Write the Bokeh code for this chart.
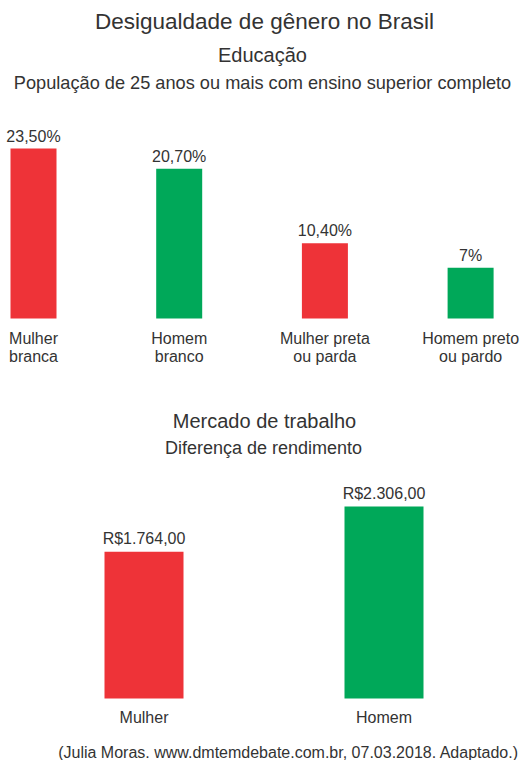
from bokeh.plotting import figure
from bokeh.layouts import column
from bokeh.models import Range1d
from bokeh.core.properties import value
from bokeh.embed import file_html
from bokeh.resources import INLINE

# ---- data ----
edu_categories = ["Mulher\nbranca", "Homem\nbranco", "Mulher preta\nou parda", "Homem preto\nou pardo"]
edu_values = [23.5, 20.7, 10.4, 7.0]
edu_labels = ["23,50%", "20,70%", "10,40%", "7%"]

inc_categories = ["Mulher", "Homem"]
inc_values = [1764, 2306]
inc_labels = ["R$1.764,00", "R$2.306,00"]

title_main = "Desigualdade de gênero no Brasil"
title_edu = "Educação"
subtitle_edu = "População de 25 anos ou mais com ensino superior completo"
title_inc = "Mercado de trabalho"
subtitle_inc = "Diferença de rendimento"
source = "(Julia Moras. www.dmtemdebate.com.br, 07.03.2018. Adaptado.)"

# ---- style ----
RED = "#EE3338"
GREEN = "#00A859"
TXT = "#333333"
FONT = value("Liberation Sans")
W = 520
H1 = 393
H2 = 367
TOP1 = 0            # page y of top figure
TOP2 = TOP1 + H1    # page y of bottom figure
LEFT = 0


def make_fig(h, xr, yr):
    p = figure(width=W, height=h, x_range=xr, y_range=yr,
               output_backend="svg", toolbar_location=None,
               x_axis_location=None, y_axis_location=None,
               min_border=0, min_border_left=0, min_border_right=0,
               min_border_top=0, min_border_bottom=0)
    p.grid.visible = False
    p.outline_line_color = None
    p.background_fill_color = "white"
    p.border_fill_color = "white"
    return p


def txt(p, xs, ys, texts, size):
    p.text(x=xs, y=ys, text=texts, text_font=FONT,
           text_font_size=value(size), text_color=TXT,
           text_align="center", text_baseline="middle")


# ---------------- top figure: education ----------------
s1y = 170 / 23.5          # px per percent
base1 = 318               # page y of baseline
s1x = 145.7               # px per category
x0_1 = 33                 # page x of first category

xr1 = Range1d((LEFT - x0_1) / s1x, (LEFT + W - x0_1) / s1x)
yr1 = Range1d(-(TOP1 + H1 - base1) / s1y, (base1 - TOP1) / s1y)
p1 = make_fig(H1, xr1, yr1)

def y1(py):
    return (base1 - py) / s1y

def x1(px):
    return (px - x0_1) / s1x

idx1 = list(range(len(edu_categories)))
colors1 = [RED, GREEN, RED, GREEN]
p1.vbar(x=idx1, top=edu_values, bottom=0, width=46 / s1x,
        fill_color=colors1, line_color=None)

lab_y1 = [v + 12.5 / s1y for v in edu_values]
txt(p1, idx1, lab_y1, edu_labels, "16px")
line1 = [c.split("\n")[0] for c in edu_categories]
line2 = [c.split("\n")[1] for c in edu_categories]
txt(p1, idx1, [y1(338)] * 4, line1, "16px")
txt(p1, idx1, [y1(356)] * 4, line2, "16px")

txt(p1, [x1(264)], [y1(21)], [title_main], "22.5px")
txt(p1, [x1(262)], [y1(54)], [title_edu], "20px")
txt(p1, [x1(262)], [y1(82)], [subtitle_edu], "18.2px")

# ---------------- bottom figure: income ----------------
s2y = 192 / 2306
base2 = 698
s2x = 240
x0_2 = 143.5

xr2 = Range1d((LEFT - x0_2) / s2x, (LEFT + W - x0_2) / s2x)
yr2 = Range1d(-(TOP2 + H2 - base2) / s2y, (base2 - TOP2) / s2y)
p2 = make_fig(H2, xr2, yr2)

def y2(py):
    return (base2 - py) / s2y

def x2(px):
    return (px - x0_2) / s2x

idx2 = list(range(len(inc_categories)))
colors2 = [RED, GREEN]
p2.vbar(x=idx2, top=inc_values, bottom=0, width=79 / s2x,
        fill_color=colors2, line_color=None)

lab_y2 = [v + 13.5 / s2y for v in inc_values]
txt(p2, idx2, lab_y2, inc_labels, "16px")
txt(p2, idx2, [y2(717)] * 2, inc_categories, "16px")

txt(p2, [x2(264)], [y2(420)], [title_inc], "20px")
txt(p2, [x2(263)], [y2(447)], [subtitle_inc], "18px")
txt(p2, [x2(288)], [y2(752)], [source], "16px")

layout = column(p1, p2, spacing=0)
open("out.html", "w").write(file_html(layout, INLINE))
